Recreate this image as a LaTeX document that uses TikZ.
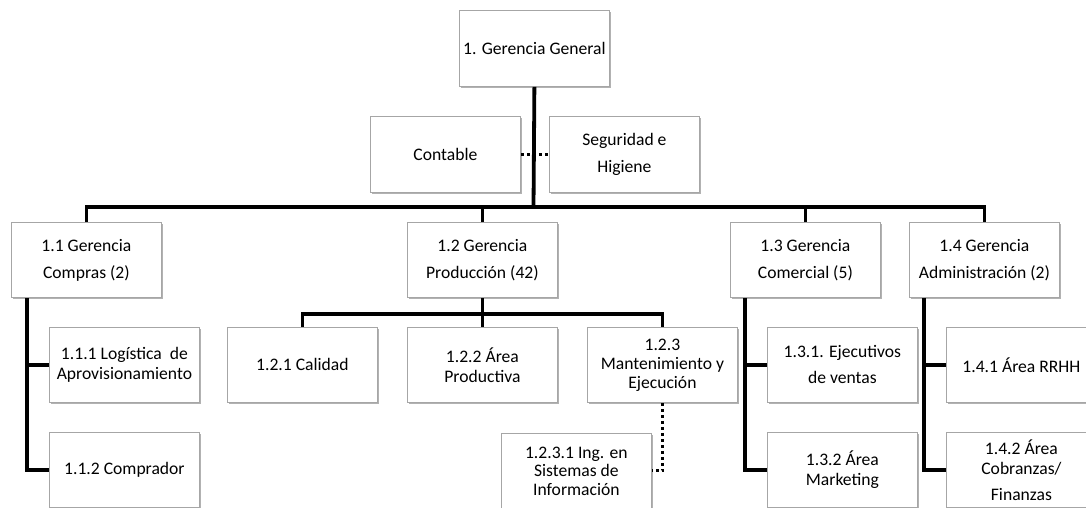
\documentclass[tikz,border=0pt]{standalone}
\usepackage{fontspec}
\setmainfont{Carlito}
\usetikzlibrary{shadows}
\begin{document}
\begin{tikzpicture}[x=1pt,y=-1pt,
 box/.style={draw=black!35, line width=0.8pt, fill=white, minimum width=150pt, minimum height=75pt,
   anchor=north west, align=center, inner sep=2pt, font=\fontsize{17.6}{20}\selectfont, text=black,
   drop shadow={shadow xshift=1.5pt, shadow yshift=-1.5pt, fill=black, opacity=0.3}},
 wide/.style={font=\fontsize{17.6}{27}\selectfont},
 conn/.style={line width=3.8pt, black},
 dots/.style={line width=3pt, black, dash pattern=on 3pt off 3pt}]
\useasboundingbox (0,0) rectangle (1086,508);
\clip (0,0) rectangle (1086,508);
% top level
\node[box, minimum height=76pt] (gg) at (459,10) {1. Gerencia General};
\node[box, minimum height=76pt] (cont) at (370,116) {Contable};
\node[box, wide, minimum height=76pt] (seg) at (549,116) {Seguridad e\\Higiene};
% level 1
\node[box, wide] (g11) at (11,222) {1.1 Gerencia\\Compras (2)};
\node[box, wide] (g12) at (407,222) {1.2 Gerencia\\Producción (42)};
\node[box, wide] (g13) at (730,222) {1.3 Gerencia\\Comercial (5)};
\node[box, wide] (g14) at (909,222) {1.4 Gerencia\\Administración (2)};
% level 2
\node[box] (g111) at (49,327) {1.1.1 Logística\ \ de\\Aprovisionamiento};
\node[box] (g112) at (49,432) {1.1.2 Comprador};
\node[box] (g121) at (227,327) {1.2.1 Calidad};
\node[box] (g122) at (407,327) {1.2.2 Área\\Productiva};
\node[box, font=\fontsize{17.6}{19}\selectfont] (g123) at (587,327) {1.2.3\\Mantenimiento y\\Ejecución};
\node[box, font=\fontsize{17.6}{18.5}\selectfont] (g1231) at (501,433) {1.2.3.1 Ing. en\\Sistemas de\\Información};
\node[box, font=\fontsize{17.6}{26}\selectfont] (g131) at (767,327) {1.3.1. Ejecutivos\\de ventas};
\node[box] (g132) at (767,432) {1.3.2 Área\\Marketing};
\node[box] (g141) at (946,327) {1.4.1 Área RRHH};
\node[box] (g142) at (946,432) {1.4.2 Área\\Cobranzas/\\[6pt]Finanzas};
% connectors
\coordinate (bus) at (533.5,207);
\draw[conn] (gg.south) -- (bus);
\draw[conn] (g11.north) |- (bus) -| (g14.north);
\draw[conn] (g12.north) -- (g12.north |- bus);
\draw[conn] (g13.north) -- (g13.north |- bus);
\draw[dots] (cont.east) -- (seg.west);
% 1.1
\draw[conn] ([xshift=16pt]g11.south west) |- (g112.west);
\draw[conn] ([xshift=16pt]g11.south west |- g111.west) -- (g111.west);
% 1.2
\coordinate (bus2) at (482,314);
\draw[conn] (g121.north) |- (bus2) -| (g123.north);
\draw[conn] (g12.south) -- (g122.north);
\draw[dots] (g123.south) |- (g1231.east);
% 1.3
\draw[conn] ([xshift=15pt]g13.south west) |- (g132.west);
\draw[conn] ([xshift=15pt]g13.south west |- g131.west) -- (g131.west);
% 1.4
\draw[conn] ([xshift=15pt]g14.south west) |- (g142.west);
\draw[conn] ([xshift=15pt]g14.south west |- g141.west) -- (g141.west);
\end{tikzpicture}
\end{document}
